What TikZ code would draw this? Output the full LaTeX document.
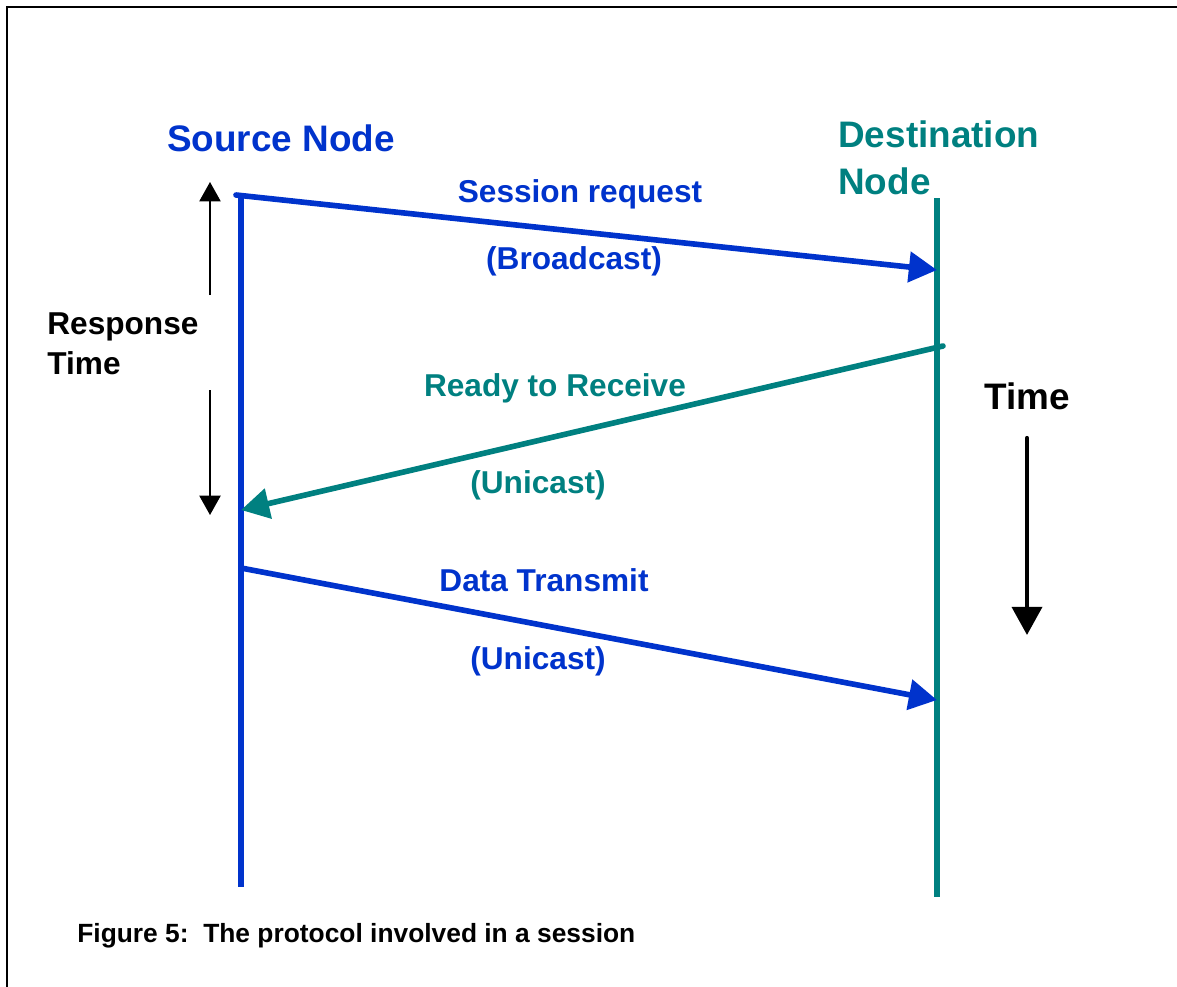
\documentclass[tikz,border=0pt]{standalone}
\usepackage{fontspec}
\setmainfont{Liberation Sans}
\usetikzlibrary{arrows.meta}
\tikzset{>=latex}
\definecolor{srcblue}{RGB}{0,51,204}
\definecolor{dstteal}{RGB}{0,128,128}
\tikzset{
  msg/.style={line width=3.2pt, line cap=round, -{Triangle[length=16pt,width=17pt]}},
  life/.style={line width=3.2pt},
  lbl/.style={inner sep=0pt, font=\fontsize{18}{22.7}\selectfont\bfseries},
  big/.style={inner sep=0pt, font=\fontsize{21}{26.6}\selectfont\bfseries},
}

\begin{document}
\begin{tikzpicture}[x=0.02cm,y=-0.02cm]
  \useasboundingbox (0,0) rectangle (1177,987);
  % frame (top and left only)
  \draw[line width=1.2pt] (7,987) -- (7,7) -- (1177,7);

  % life lines
  \coordinate (srctop) at (241,195);
  \coordinate (srcbot) at (241,887);
  \coordinate (dsttop) at (937,198);
  \coordinate (dstbot) at (937,897);
  \draw[life,srcblue] (srctop) -- (srcbot);
  \draw[life,dstteal] (dsttop) -- (dstbot);

  \node[big,srcblue] (src) at (281,138) {Source Node};
  \node[big,dstteal,align=left,anchor=west] (dst) at (838,158) {Destination\\Node};

  % messages
  \coordinate (req0) at (236,195);
  \coordinate (req1) at (937,270);
  \coordinate (rtr0) at (943,346);
  \coordinate (rtr1) at (241,510);
  \coordinate (dat0) at (241,568);
  \coordinate (dat1) at (937,700);
  \draw[msg,srcblue] (req0) -- (req1);
  \draw[msg,dstteal] (rtr0) -- (rtr1);
  \draw[msg,srcblue] (dat0) -- (dat1);

  \node[lbl,srcblue]  (reqa) at (580,194) {Session request};
  \node[lbl,srcblue]  (reqb) at (574,261) {(Broadcast)};
  \node[lbl,dstteal]  (rtra) at (555,388) {Ready to Receive};
  \node[lbl,dstteal]  (rtrb) at (538,485) {(Unicast)};
  \node[lbl,srcblue]  (data) at (544,580) {Data Transmit};
  \node[lbl,srcblue]  (datb) at (538,661) {(Unicast)};

  % response time
  \node[lbl,align=left,anchor=west] (resp) at (47,344) {Response\\Time};
  \coordinate (rup0) at (210,295);
  \coordinate (rup1) at (210,182);
  \coordinate (rdn0) at (210,390);
  \coordinate (rdn1) at (210,515);
  \draw[line width=1.1pt,-{Triangle[length=11pt,width=12pt]}] (rup0) -- (rup1);
  \draw[line width=1.1pt,-{Triangle[length=11pt,width=12pt]}] (rdn0) -- (rdn1);

  % time axis
  \node[big] (time) at (1027,396) {Time};
  \coordinate (tax0) at (1027,438);
  \coordinate (tax1) at (1027,635);
  \draw[line width=2.4pt,line cap=round,-{Triangle[length=16pt,width=17pt]}] (tax0) -- (tax1);

  \node[inner sep=0pt,anchor=west,font=\fontsize{15}{18}\selectfont\bfseries] (cap) at (77,936)
    {Figure 5:\ \ The protocol involved in a session};
\end{tikzpicture}
\end{document}
